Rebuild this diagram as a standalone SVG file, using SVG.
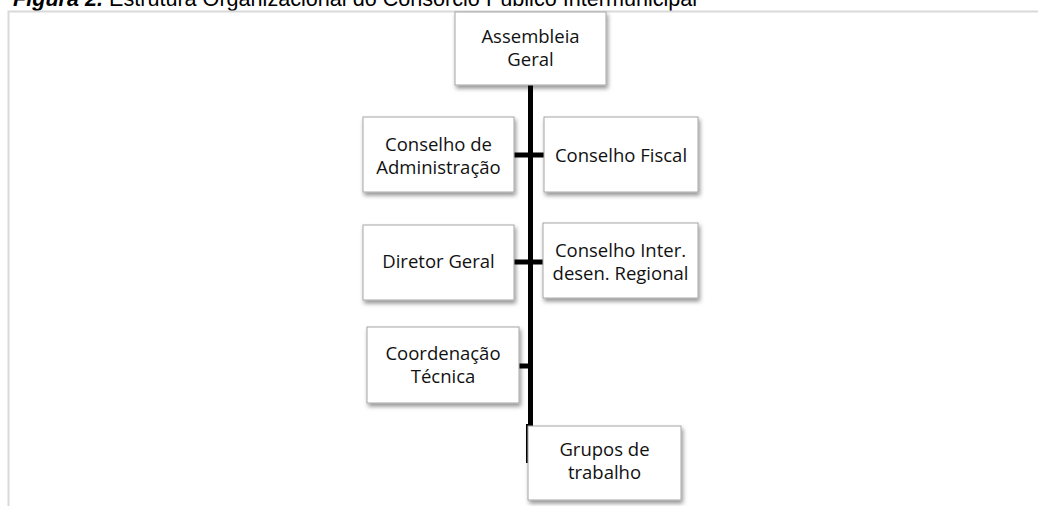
<svg xmlns="http://www.w3.org/2000/svg" width="1038" height="506" viewBox="0 0 1038 506">
<defs>
<filter id="sh" x="-10%" y="-10%" width="130%" height="140%">
<feDropShadow dx="1.5" dy="3" stdDeviation="2" flood-color="#000" flood-opacity="0.42"/>
</filter>
<style>
.box{fill:#ffffff;stroke:#a6a6a6;stroke-width:1;filter:url(#sh)}
.lbl{font-family:"Open Sans","Liberation Sans",sans-serif;font-size:18.5px;fill:#111;text-anchor:middle}
.con{stroke:#000;stroke-width:5;fill:none}
.frame{stroke:#d9d9d9;stroke-width:2;fill:none}
.title{font-family:"Liberation Sans",Arial,sans-serif;font-size:21.6px;fill:#000}
</style>
</defs>
<rect width="1038" height="506" fill="#ffffff"/>
<text class="title" x="13" y="6"><tspan font-weight="bold" font-style="italic">Figura 2.</tspan> Estrutura Organizacional do Consórcio Público Intermunicipal</text>
<path class="frame" d="M8.5,506 V11.5 H1038"/>
<g id="connectors">
<line class="con" x1="530.5" y1="85" x2="530.5" y2="426"/>
<line stroke="#000" stroke-width="2" x1="527" y1="424" x2="527" y2="463"/>
<line class="con" x1="514" y1="155" x2="544" y2="155"/>
<line class="con" x1="514" y1="262" x2="543" y2="262"/>
<line class="con" x1="519" y1="366" x2="531" y2="366"/>
</g>
<g id="assembleia">
<rect class="box" x="455" y="12" width="151" height="73"/>
<text class="lbl" x="530.5" y="43">Assembleia</text>
<text class="lbl" x="530.5" y="66">Geral</text>
</g>
<g id="conselho-admin">
<rect class="box" x="363" y="117" width="151" height="75"/>
<text class="lbl" x="438.5" y="151">Conselho de</text>
<text class="lbl" x="438.5" y="174">Administração</text>
</g>
<g id="conselho-fiscal">
<rect class="box" x="544" y="117" width="154" height="75"/>
<text class="lbl" x="621" y="162">Conselho Fiscal</text>
</g>
<g id="diretor-geral">
<rect class="box" x="363" y="225" width="151" height="75"/>
<text class="lbl" x="438.5" y="268">Diretor Geral</text>
</g>
<g id="conselho-inter">
<rect class="box" x="543" y="223" width="155" height="75"/>
<text class="lbl" x="620.5" y="257">Conselho Inter.</text>
<text class="lbl" x="620.5" y="280">desen. Regional</text>
</g>
<g id="coordenacao">
<rect class="box" x="367" y="327" width="152" height="76"/>
<text class="lbl" x="443" y="360">Coordenação</text>
<text class="lbl" x="443" y="383">Técnica</text>
</g>
<g id="grupos">
<rect class="box" x="528" y="426" width="153" height="74"/>
<text class="lbl" x="604.5" y="456">Grupos de</text>
<text class="lbl" x="604.5" y="479">trabalho</text>
</g>
</svg>
